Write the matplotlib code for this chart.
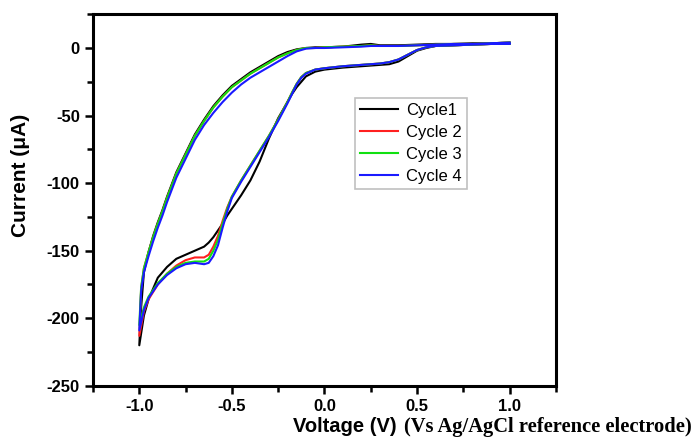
import numpy as np
import matplotlib
matplotlib.use("Agg")
import matplotlib.pyplot as plt
from matplotlib.ticker import MultipleLocator

# cathodic sweep, 1.0 V -> -1.0 V
v_down = [1.0, 0.9, 0.8, 0.7, 0.6, 0.55, 0.5, 0.45, 0.4, 0.35, 0.3, 0.2, 0.1,
          0.0, -0.05, -0.1, -0.125, -0.15, -0.175, -0.2, -0.25, -0.3, -0.35,
          -0.4, -0.45, -0.5, -0.525, -0.55, -0.575, -0.6, -0.625, -0.65,
          -0.7, -0.75, -0.8, -0.85, -0.9, -0.95, -0.975, -1.0]
# anodic sweep, -1.0 V -> 1.0 V
v_up = [-1.0, -0.99, -0.975, -0.95, -0.925, -0.9, -0.875, -0.85, -0.8, -0.75,
        -0.7, -0.65, -0.6, -0.55, -0.5, -0.45, -0.4, -0.35, -0.3, -0.25,
        -0.2, -0.15, -0.1, -0.05, 0.0, 0.1, 0.2, 0.25, 0.3, 0.4, 0.5, 0.6,
        0.7, 0.8, 0.9, 1.0]

c1_down = [3, 3, 2.5, 2, 1.5, 0, -2, -6, -10, -12, -12.5, -13.5, -14.5,
           -16, -17.5, -21, -25, -29, -34, -40, -52, -67, -84,
           -98, -109, -119, -124, -130, -135, -140, -144, -147,
           -150, -153, -156, -162, -170, -186, -198, -220]
c2_down = [3, 3, 2.5, 2, 1.5, 0.5, -1.5, -5, -8.5, -10.5, -11.5, -12.5, -13.5,
           -15, -16, -18.5, -21.5, -26.5, -33, -40, -53, -65, -76,
           -87, -98, -110, -118, -128, -139, -147, -153, -155,
           -155, -157, -161, -167, -175, -186, -195, -213]
c3_down = [3, 3, 2.5, 2, 1.5, 0.5, -1.5, -5, -8.5, -10.5, -11.5, -12.5, -13.5,
           -15, -16, -18.5, -21.5, -26.5, -33, -40, -53, -65, -76,
           -87, -98, -110, -119, -130, -142, -150, -156, -158,
           -158, -159, -162, -167, -174, -184, -192, -205]
c4_down = [3, 3, 2.5, 2, 1.5, 0.5, -1.5, -5, -8.5, -10.5, -11.5, -12.5, -13.5,
           -15, -16, -19, -22, -27, -34, -41, -54, -66, -77,
           -88, -99, -111, -121, -133, -146, -154, -159, -160,
           -159, -160, -163, -168, -175, -185, -194, -209]

c1_up = [-220, -192, -166, -151, -139, -129, -120, -110, -92, -78,
         -64, -53, -43, -35, -28, -23, -18, -14, -10, -6,
         -3, -1, 0, 0.5, 0.5, 1, 2.5, 3, 2, 2, 2.5, 3, 3, 3.5, 3.5, 4]
c2_up = [-213, -178, -163, -151, -140, -130, -121, -111, -93, -79,
         -65, -54, -44, -36, -29, -24, -19, -15, -11, -7,
         -4, -1.5, 0, 0, 0.5, 1, 1.5, 2, 1.5, 1.5, 2, 2.5, 3, 3, 3.5, 4]
c3_up = [-205, -177, -163, -151, -140, -130, -121, -111, -93, -79,
         -65, -54, -44, -36, -29, -24, -19, -15, -11, -7,
         -4, -1.5, 0, 0, 0.5, 1, 1.5, 2, 1.5, 1.5, 2, 2.5, 3, 3, 3.5, 4]
c4_up = [-209, -180, -166, -154, -143, -133, -124, -114, -96, -82,
         -68, -57, -48, -40, -33, -27, -22, -18, -14, -10,
         -6, -2.5, -0.5, 0, 0, 0.5, 1, 1.5, 1.5, 1.5, 2, 2.5, 3, 3, 3.5, 4]

labels = ["Cycle1", "Cycle 2", "Cycle 3", "Cycle 4"]
colors = ["black", "#ff2020", "#10e010", "#1a1aff"]
downs = [c1_down, c2_down, c3_down, c4_down]
ups = [c1_up, c2_up, c3_up, c4_up]

plt.rcParams["font.family"] = ["Liberation Sans", "DejaVu Sans"]

fig = plt.figure(figsize=(6.94, 4.44), dpi=100)
ax = fig.add_axes([0.134, 0.131, 0.667, 0.837])

for lab, col, d, u in zip(labels, colors, downs, ups):
    ax.plot(v_down + v_up, d + u, color=col, lw=1.5, label=lab)

ax.set_xlim(-1.25, 1.25)
ax.set_ylim(-250, 25)
ax.xaxis.set_minor_locator(MultipleLocator(0.25))
ax.yaxis.set_minor_locator(MultipleLocator(25))
ax.set_xticks([-1.0, -0.5, 0.0, 0.5, 1.0])
ax.set_xticklabels(["-1.0", "-0.5", "0.0", "0.5", "1.0"])
ax.set_yticks([0, -50, -100, -150, -200, -250])
ax.set_yticklabels(["0", "-50", "-100", "-150", "-200", "-250"])

for s in ax.spines.values():
    s.set_linewidth(2.2)
ax.tick_params(which="major", direction="out", length=6, width=1.8,
               labelsize=12, top=False, right=False)
ax.tick_params(which="minor", direction="out", length=4, width=1.8,
               top=False, right=False)
for t in ax.get_xticklabels() + ax.get_yticklabels():
    t.set_fontweight("bold")

fig.text(0.029, 0.605, "Current (\u03bcA)", fontsize=15, fontweight="bold",
         rotation=90, ha="center", va="center")

fig.text(0.422, 0.027, "Voltage (V)", fontsize=14.5, fontweight="bold",
         ha="left", va="baseline")
fig.text(0.582, 0.027, "(Vs Ag/AgCl reference electrode)", fontsize=14.8,
         fontweight="bold", family=["Liberation Serif", "DejaVu Serif"],
         ha="left", va="baseline")

leg = ax.legend(loc="upper left", bbox_to_anchor=(0.566, 0.774), fontsize=12,
                frameon=True, fancybox=False, handlelength=2.3,
                borderaxespad=0, labelspacing=0.42, handletextpad=0.45,
                borderpad=0.3)
leg.get_frame().set_edgecolor("#b0b0b0")
leg.get_frame().set_linewidth(1.2)

fig.savefig("out.png", dpi=100)
